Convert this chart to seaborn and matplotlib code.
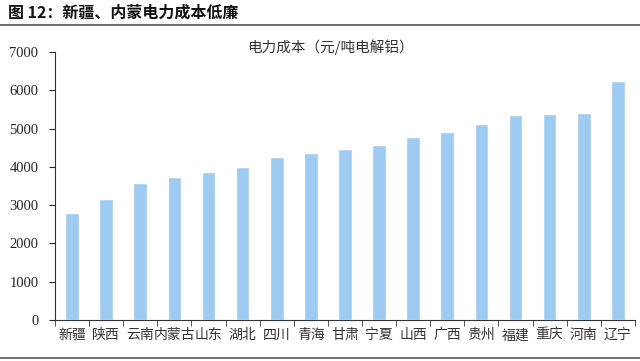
import pandas as pd
import seaborn as sns
import matplotlib.pyplot as plt
from matplotlib.lines import Line2D

# Data
provinces = ['新疆', '陕西', '云南', '内蒙古', '山东', '湖北', '四川', '青海', '甘肃',
             '宁夏', '山西', '广西', '贵州', '福建', '重庆', '河南', '辽宁']
cost = [2790, 3170, 3570, 3720, 3860, 3990, 4260, 4360, 4470,
        4570, 4780, 4910, 5120, 5360, 5390, 5410, 6250]
y_ticks = [0, 1000, 2000, 3000, 4000, 5000, 6000, 7000]

df = pd.DataFrame({'省份': provinces, '电力成本': cost})

sns.set_style('white')
plt.rcParams['font.family'] = ['Noto Sans CJK SC', 'DejaVu Sans']

fig = plt.figure(figsize=(6.4, 3.61), dpi=100)
ax = fig.add_axes([0.086, 0.114, 0.906, 0.742])

sns.barplot(data=df, x='省份', y='电力成本', color='#9ecbf1', saturation=1,
            width=0.4, ax=ax)

ax.set_ylim(0, 7000)
ax.set_xlim(-0.5, len(provinces) - 0.5)
ax.set_yticks(y_ticks)
ax.set_yticklabels([str(v) for v in y_ticks], family='Liberation Serif', fontsize=10.5)
ax.set_xlabel('')
ax.set_ylabel('')
ax.tick_params(axis='x', length=0, labelsize=10, pad=6)
ax.tick_params(axis='y', length=4, direction='out', left=True, pad=8)
ax.set_xticks([i - 0.5 for i in range(len(provinces) + 1)], minor=True)
ax.tick_params(axis='x', which='minor', length=4, direction='out', bottom=True, color='#333333')
for lab in ax.get_xticklabels():
    lab.set_color('#333333')

for side in ['top', 'right']:
    ax.spines[side].set_visible(False)
for side in ['left', 'bottom']:
    ax.spines[side].set_color('#333333')
    ax.spines[side].set_linewidth(0.8)

fig.text(0.516, 0.87, '电力成本（元/吨电解铝）', ha='center', va='center',
         fontsize=10.5, color='#333333')

fig.text(0.012, 0.965, '图 12：新疆、内蒙电力成本低廉', ha='left', va='center',
         fontsize=11.5, fontweight='bold', color='#111111')
fig.add_artist(Line2D([0, 1], [0.932, 0.932], color='#555555', linewidth=1.2))
fig.add_artist(Line2D([0, 1], [0.008, 0.008], color='#555555', linewidth=1.2))

fig.savefig('out.png', dpi=100)
